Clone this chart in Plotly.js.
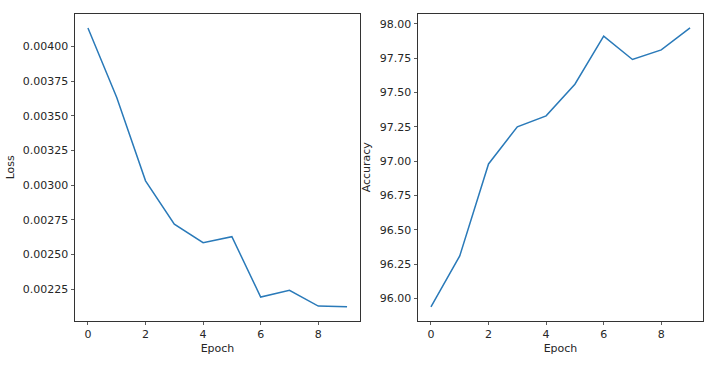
<!DOCTYPE html>
<html>
<head>
<meta charset="utf-8">
<script src="https://cdn.plot.ly/plotly-3.0.1.min.js"></script>
<style>html,body{margin:0;padding:0;background:#fff;}#chart{width:721px;height:367px;}</style>
</head>
<body>
<div id="chart"></div>
<script>
const epochs = [0, 1, 2, 3, 4, 5, 6, 7, 8, 9];
const loss = [0.004135, 0.003633, 0.003031, 0.002718, 0.002585, 0.002628, 0.002192, 0.002241, 0.002127, 0.002122];
const accuracy = [95.94, 96.31, 96.98, 97.25, 97.33, 97.56, 97.91, 97.74, 97.81, 97.97];
const xTitle = "Epoch";
const lossTitle = "Loss";
const accTitle = "Accuracy";

const lineColor = "#2a7ab9";
const font = {family: "DejaVu Sans", size: 11, color: "#262626"};

function pad(arr, frac) {
  const mn = Math.min(...arr), mx = Math.max(...arr);
  const d = (mx - mn) * frac;
  return [mn - d, mx + d];
}

const axisCommon = {
  showline: true, mirror: true, linecolor: "#333", linewidth: 1,
  ticks: "outside", ticklen: 3.5, tickwidth: 0.8, tickcolor: "#333",
  showgrid: false, zeroline: false, tickfont: font
};

const traces = [
  {x: epochs, y: loss, type: "scatter", mode: "lines", line: {color: lineColor, width: 1.5}, xaxis: "x", yaxis: "y", showlegend: false},
  {x: epochs, y: accuracy, type: "scatter", mode: "lines", line: {color: lineColor, width: 1.5}, xaxis: "x2", yaxis: "y2", showlegend: false}
];

const xr = [-0.45, 9.45];
const yDom = [1 - 320.7/367, 1 - 14/367];
const layout = {
  width: 721, height: 367,
  margin: {l: 0, r: 0, t: 0, b: 0},
  paper_bgcolor: "#fff", plot_bgcolor: "#fff",
  font: font,
  xaxis: Object.assign({}, axisCommon, {domain: [75/721, 360/721], range: xr, dtick: 2, tick0: 0, anchor: "y",
    title: {text: xTitle, font: font, standoff: 3}}),
  yaxis: Object.assign({}, axisCommon, {domain: yDom, range: pad(loss, 0.05), dtick: 0.00025, tick0: 0, tickformat: ".5f", anchor: "x"}),
  xaxis2: Object.assign({}, axisCommon, {domain: [418/721, 703/721], range: xr, dtick: 2, tick0: 0, anchor: "y2",
    title: {text: xTitle, font: font, standoff: 3}}),
  yaxis2: Object.assign({}, axisCommon, {domain: yDom, range: pad(accuracy, 0.05), dtick: 0.25, tick0: 0, tickformat: ".2f", anchor: "x2"}),
  annotations: [
    {text: lossTitle, xref: "paper", yref: "paper", x: 10/721, y: (yDom[0] + yDom[1]) / 2, textangle: -90,
     showarrow: false, xanchor: "center", yanchor: "middle", font: font},
    {text: accTitle, xref: "paper", yref: "paper", x: 366/721, y: (yDom[0] + yDom[1]) / 2, textangle: -90,
     showarrow: false, xanchor: "center", yanchor: "middle", font: font}
  ]
};

Plotly.newPlot("chart", traces, layout, {displayModeBar: false, staticPlot: true});
</script>
</body>
</html>
